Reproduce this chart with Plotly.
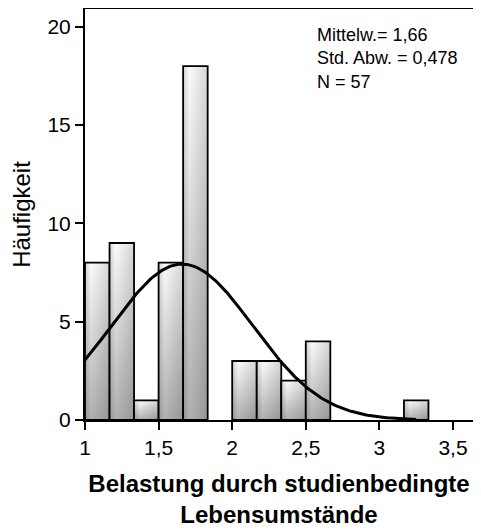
import numpy as np
import plotly.graph_objects as go

# histogram data (bin width 1/6, starting at 1)
bin_left = [1.0, 1.1667, 1.3333, 1.5, 1.6667, 1.8333, 2.0, 2.1667, 2.3333, 2.5,
            2.6667, 2.8333, 3.0, 3.1667]
counts = [8, 9, 1, 8, 18, 0, 3, 3, 2, 4, 0, 0, 0, 1]
bin_width = 1 / 6

mean_val = 1.66
sd_val = 0.478
n_val = 57

x_ticks = [1, 1.5, 2, 2.5, 3, 3.5]
x_tick_text = ["1", "1,5", "2", "2,5", "3", "3,5"]
y_ticks = [0, 5, 10, 15, 20]

FONT = "Liberation Sans, Arial, sans-serif"

fig = go.Figure()

# bars: horizontal light gradient + vertical dark overlay => SPSS-like shading
for left, c in zip(bin_left, counts):
    if c == 0:
        continue
    right = left + bin_width
    xs = [left, right, right, left, left]
    ys = [0, 0, c, c, 0]
    fig.add_trace(go.Scatter(
        x=xs, y=ys, mode="lines", fill="toself",
        fillgradient=dict(type="horizontal",
                          colorscale=[[0, "#d4d4d4"], [0.25, "#fbfbfb"], [1, "#d6d6d6"]]),
        line=dict(width=0), hoverinfo="skip", showlegend=False))
    fig.add_trace(go.Scatter(
        x=xs, y=ys, mode="lines", fill="toself",
        fillgradient=dict(type="vertical",
                          colorscale=[[0, "rgba(0,0,0,0.3)"], [1, "rgba(0,0,0,0)"]]),
        line=dict(color="black", width=1.8), hoverinfo="skip", showlegend=False))

# fitted normal curve
xc = np.linspace(1.0, 3.25, 200)
yc = n_val * bin_width * np.exp(-0.5 * ((xc - mean_val) / sd_val) ** 2) / (sd_val * np.sqrt(2 * np.pi))
fig.add_trace(go.Scatter(x=xc, y=yc, mode="lines", line=dict(color="black", width=3),
                         hoverinfo="skip", showlegend=False))

stats_text = ("Mittelw.= " + f"{mean_val:.2f}".replace(".", ",")
              + "<br>Std. Abw. = " + f"{sd_val:.3f}".replace(".", ",")
              + f"<br>N = {n_val}")
fig.add_annotation(
    x=0.592, y=0.966, xref="paper", yref="paper", xanchor="left", yanchor="top",
    align="left", showarrow=False, text=stats_text,
    font=dict(family=FONT, size=18, color="black"))

# the page body adds an 8px offset, so the figure is 8px smaller
fig.update_layout(
    width=473, height=524,
    margin=dict(l=77, r=8, t=1, b=112),
    plot_bgcolor="white", paper_bgcolor="white",
    font=dict(family=FONT, color="black"),
    xaxis=dict(range=[1, 3.636], tickvals=x_ticks, ticktext=x_tick_text,
               showgrid=False, zeroline=False, showline=True, mirror=True,
               linecolor="black", linewidth=2, ticks="outside", ticklen=8,
               tickwidth=2, tickcolor="black", tickfont=dict(size=21),
               automargin=False,
               title=dict(text="<b>Belastung durch studienbedingte<br>Lebensumstände</b>",
                          font=dict(size=24), standoff=17)),
    yaxis=dict(range=[0, 20.9], tickvals=y_ticks,
               showgrid=False, zeroline=False, showline=True, mirror=True,
               linecolor="black", linewidth=2, ticks="outside", ticklen=8,
               tickwidth=2, tickcolor="black", tickfont=dict(size=21),
               automargin=False,
               title=dict(text="Häufigkeit", font=dict(size=24), standoff=11)),
)

fig.write_html("out.html")
